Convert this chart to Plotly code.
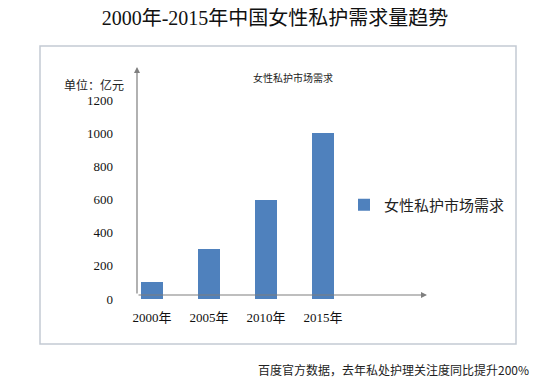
import plotly.graph_objects as go

categories = ["2000年", "2005年", "2010年", "2015年"]
demand = [100, 300, 600, 1000]
y_ticks = [0, 200, 400, 600, 800, 1000, 1200]
series_name = "女性私护市场需求"
title_text = "2000年-2015年中国女性私护需求量趋势"
unit_text = "单位：亿元"
note_text = "百度官方数据，去年私处护理关注度同比提升200%"

W, H = 550, 385
OFF = 8  # page body margin compensation
L, R, T, B = 137 - OFF, 550 - 427 + OFF, 67 - OFF, 385 - 299 + OFF
PW, PH = W - L - R, H - T - B
XR = [-0.263, 4.825]
YR = [0, 1399]

def px(xp):
    return (xp - OFF - L) / PW

def py(yp):
    return (H - B - (yp - OFF)) / PH

SERIF = "Liberation Serif, Noto Sans CJK SC, serif"
CJK = "Noto Sans CJK SC, sans-serif"
AX = "#7f7f7f"

fig = go.Figure()
fig.add_trace(go.Bar(
    x=list(range(len(categories))), y=demand, name=series_name,
    marker=dict(color="#4F81BD", line=dict(width=0)), width=0.386,
    showlegend=True,
))

fig.update_layout(
    width=W, height=H,
    margin=dict(l=L, r=R, t=T, b=B, autoexpand=False),
    paper_bgcolor="white", plot_bgcolor="white",
    title=dict(text=title_text, x=(275 - OFF) / W, xanchor="center",
               y=1 - (18 - OFF) / H, yanchor="middle",
               xref="container", yref="container",
               font=dict(family=SERIF, size=20, color="#111111")),
    xaxis=dict(range=XR, tickvals=list(range(len(categories))), ticktext=categories,
               showgrid=False, zeroline=False, showline=False, ticks="",
               ticklabelstandoff=9, tickangle=0, automargin=False,
               tickfont=dict(family=SERIF, size=13, color="#111111")),
    yaxis=dict(range=YR, tickvals=y_ticks, showgrid=False, zeroline=False,
               showline=False, ticks="", ticklabelstandoff=23, automargin=False,
               tickfont=dict(family=SERIF, size=13, color="#111111")),
    legend=dict(x=px(344), y=py(205), xanchor="left", yanchor="middle",
                bgcolor="rgba(0,0,0,0)",
                font=dict(family=CJK, size=15, color="#222222"), itemwidth=30),
    showlegend=True,
    bargap=0,
)

# outer frame
fig.add_shape(type="rect", xref="paper", yref="paper",
              x0=px(40), x1=px(516), y0=py(344), y1=py(46),
              line=dict(color="#C3CAD3", width=1.5), layer="below")

# axis lines with arrows
fig.add_annotation(x=XR[1], y=24, ax=XR[0], ay=24, xref="x", yref="y",
                   axref="x", ayref="y", text="", showarrow=True,
                   arrowhead=2, arrowsize=1, arrowwidth=1.2, arrowcolor=AX)
fig.add_annotation(x=XR[0], y=YR[1], ax=XR[0], ay=24, xref="x", yref="y",
                   axref="x", ayref="y", text="", showarrow=True,
                   arrowhead=2, arrowsize=1, arrowwidth=1.2, arrowcolor=AX)

fig.add_annotation(text=unit_text, x=px(62), y=py(84), xref="paper", yref="paper",
                   xanchor="left", yanchor="middle", showarrow=False,
                   font=dict(family=CJK, size=12, color="#222222"))
fig.add_annotation(text=series_name, x=px(293), y=py(77), xref="paper", yref="paper",
                   xanchor="center", yanchor="middle", showarrow=False,
                   font=dict(family=CJK, size=10, color="#222222"))
fig.add_annotation(text=note_text, x=px(531), y=py(370), xref="paper", yref="paper",
                   xanchor="right", yanchor="middle", showarrow=False,
                   font=dict(family=CJK, size=12, color="#222222"))

fig.write_html("out.html")
